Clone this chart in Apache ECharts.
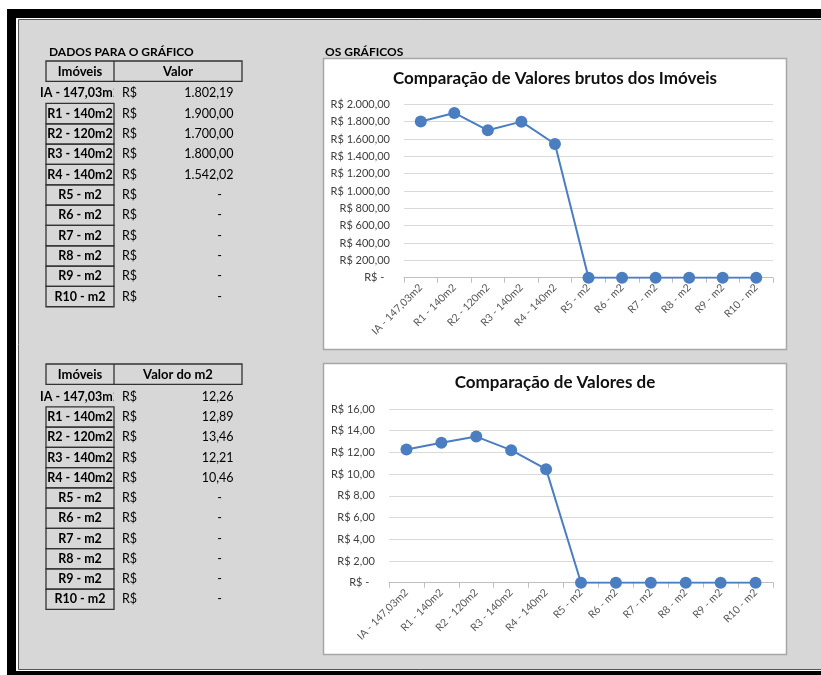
<!DOCTYPE html>
<html><head><meta charset="utf-8">
<script src="https://cdn.jsdelivr.net/npm/echarts@6/dist/echarts.min.js"></script>
<style>html,body{margin:0;padding:0;background:#fff}#c{width:821px;height:675px}</style>
</head><body><div id="c"></div>
<script>
// ---- data ----
const categories = ['IA - 147,03m2','R1 - 140m2','R2 - 120m2','R3 - 140m2','R4 - 140m2','R5 - m2','R6 - m2','R7 - m2','R8 - m2','R9 - m2','R10 - m2'];
const valorBruto = [1802.19, 1900.00, 1700.00, 1800.00, 1542.02, 0, 0, 0, 0, 0, 0];
const valorM2 = [12.26, 12.89, 13.46, 12.21, 10.46, 0, 0, 0, 0, 0, 0];
const chartTitles = ['Comparação de Valores brutos dos Imóveis', 'Comparação de Valores de'];
const tableHeaders1 = ['Imóveis', 'Valor'];
const tableHeaders2 = ['Imóveis', 'Valor do m2'];
const sectionTitles = ['DADOS PARA O GRÁFICO', 'OS GRÁFICOS'];
const yAxis1 = {min: 0, max: 2000, interval: 200};
const yAxis2 = {min: 0, max: 16, interval: 2};

// ---- helpers ----
const FONT = 'Lato, "Liberation Sans", sans-serif';
function fmt(v) {
  if (v === 0) return '-';
  let parts = v.toFixed(2).split('.');
  let i = parts[0].replace(/\B(?=(\d{3})+(?!\d))/g, '.');
  return i + ',' + parts[1];
}
const BLUE = '#4a7ec1';
const GRAY = '#d7d7d7';

const graphics = [];
// frame
graphics.push({type:'rect', z:-10, shape:{x:7,y:9,width:814,height:666}, style:{fill:'#000'}});
graphics.push({type:'rect', z:-10, shape:{x:16,y:18,width:805,height:653}, style:{fill:'#fff'}});
graphics.push({type:'rect', z:-10, shape:{x:18.5,y:19.5,width:810,height:650}, style:{fill:GRAY, stroke:'#555', lineWidth:1}});
// chart boxes
graphics.push({type:'rect', z:-9, shape:{x:323.5,y:58.5,width:463,height:291}, style:{fill:'#fff', stroke:'#a6a6a6', lineWidth:1.5}});
graphics.push({type:'rect', z:-9, shape:{x:323.5,y:363.5,width:463,height:291}, style:{fill:'#fff', stroke:'#a6a6a6', lineWidth:1.5}});

function txt(text, x, y, opts) {
  opts = opts || {};
  graphics.push({type:'text', z: -5, style:{text:text, x:x, y:y, fill: opts.fill || '#000',
    font: (opts.bold ? 'bold ' : '') + (opts.size || 12.5) + 'px ' + FONT,
    textAlign: opts.align || 'left', textVerticalAlign:'middle'}});
}

sectionTitles.forEach(function(t, i){ txt(t, i === 0 ? 49 : 325, 52.5, {bold:true, size:12}); });

function table(headers, values, headTop, firstCenter, step) {
  graphics.push({type:'rect', z:-6, shape:{x:46, y:headTop, width:196, height:20.3}, style:{fill:'none', stroke:'#333', lineWidth:1.3}});
  graphics.push({type:'line', z:-6, shape:{x1:114, y1:headTop, x2:114, y2:headTop+20.3}, style:{stroke:'#333', lineWidth:1.3}});
  txt(headers[0], 80, headTop + 10.5, {bold:true, align:'center', size:13});
  txt(headers[1], 178, headTop + 10.5, {bold:true, align:'center', size:13});
  categories.forEach(function(c, i){
    const cy = firstCenter + i * step;
    if (i > 0) {
      graphics.push({type:'rect', z:-6, shape:{x:46, y:cy - step/2, width:68, height:step}, style:{fill:'none', stroke:'#333', lineWidth:1.3}});
    }
    txt(c, 80, cy, {bold:true, align:'center'});
    if (i === 0) {
      graphics.push({type:'rect', z:-5, shape:{x:113.5, y:cy-9, width:7, height:18}, style:{fill:GRAY}});
    }
    txt('R$', 122, cy);
    const v = values[i];
    if (v === 0) txt('-', 222, cy, {align:'right'});
    else txt(fmt(v), 233.5, cy, {align:'right'});
  });
}
table(tableHeaders1, valorBruto, 61, 93.3, 20.33);
table(tableHeaders2, valorM2, 364, 396.7, 20.26);

function xAxis(gi) {
  return {type:'category', gridIndex: gi, data: categories, boundaryGap: true,
    axisLine:{lineStyle:{color:'#bfbfbf', width:1}},
    axisTick:{show:true, length:5, lineStyle:{color:'#bfbfbf'}},
    axisLabel:{rotate:45, fontSize:10.5, color:'#595959', fontFamily:FONT, margin:8, interval:0}};
}
function yAxis(gi, cfg) {
  return {type:'value', gridIndex: gi, min: cfg.min, max: cfg.max, interval: cfg.interval,
    axisLine:{show:false}, axisTick:{show:false},
    splitLine:{lineStyle:{color:'#d9d9d9', width:1}},
    axisLabel:{fontSize:11, color:'#404040', fontFamily:FONT, margin:14,
      formatter: function(v){ return v === 0 ? 'R$ -  ' : 'R$ ' + fmt(v); }}};
}

const option = {
  animation: false,
  backgroundColor: '#fff',
  title: [
    {text: chartTitles[0], left: 555, top: 70.5, textAlign:'center', padding:0,
      textStyle:{fontFamily:FONT, fontWeight:'bold', fontSize:17, color:'#111'}},
    {text: chartTitles[1], left: 555, top: 374.5, textAlign:'center', padding:0,
      textStyle:{fontFamily:FONT, fontWeight:'bold', fontSize:17, color:'#111'}}
  ],
  grid: [
    {left:404, right:48, top:104.3, height:173.4, containLabel:false},
    {left:389, right:48, top:409, height:173.7, containLabel:false}
  ],
  xAxis: [xAxis(0), xAxis(1)],
  yAxis: [yAxis(0, yAxis1), yAxis(1, yAxis2)],
  series: [
    {type:'line', xAxisIndex:0, yAxisIndex:0, data: valorBruto, symbol:'circle', symbolSize:12,
      itemStyle:{color:BLUE}, lineStyle:{color:BLUE, width:2}},
    {type:'line', xAxisIndex:1, yAxisIndex:1, data: valorM2, symbol:'circle', symbolSize:12,
      itemStyle:{color:BLUE}, lineStyle:{color:BLUE, width:2}}
  ],
  graphic: graphics
};
const chart = echarts.init(document.getElementById('c'), null, {renderer:'canvas'});
chart.setOption(option);
</script>
</body></html>
